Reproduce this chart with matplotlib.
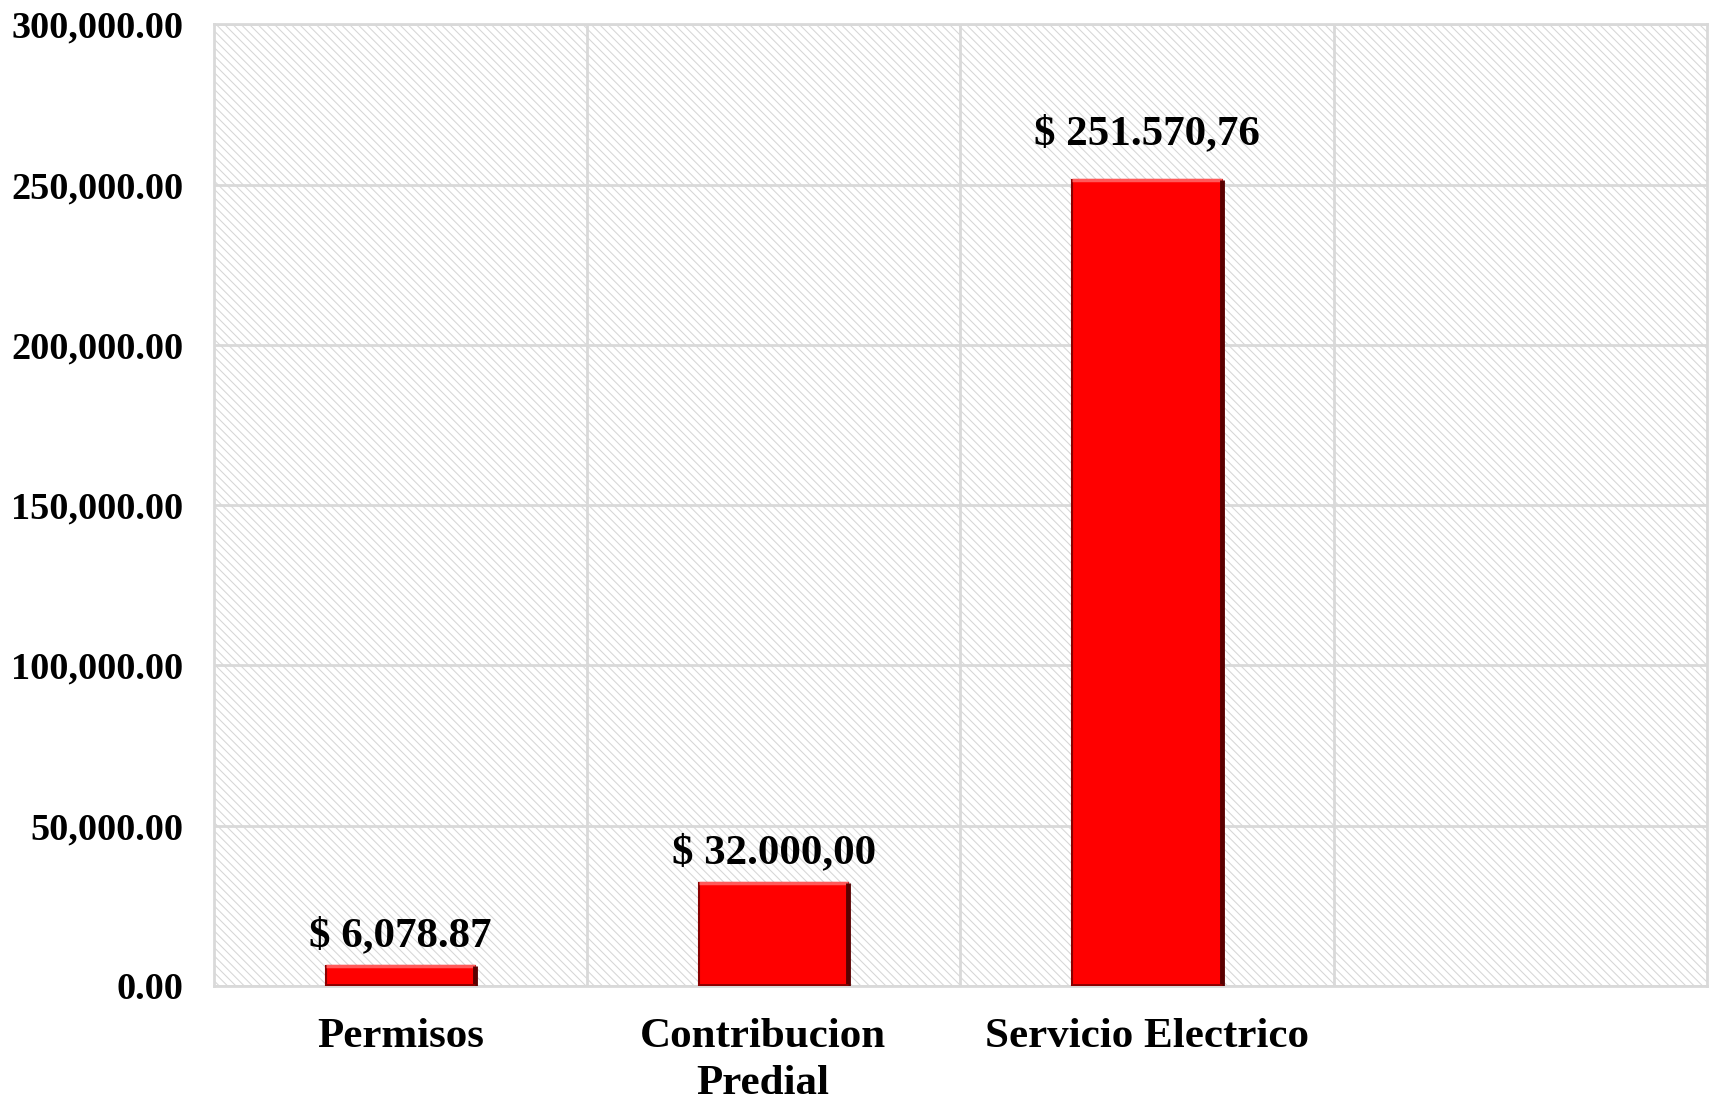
import matplotlib.pyplot as plt
from matplotlib.patches import Rectangle
from matplotlib.ticker import FuncFormatter
from matplotlib.transforms import ScaledTranslation

# datos
categorias = ["Permisos", "Contribucion\nPredial", "Servicio Electrico", ""]
valores = [6078.87, 32000.00, 251570.76]
etiquetas = ["$ 6,078.87", "$ 32.000,00", "$ 251.570,76"]
yticks = [0, 50000, 100000, 150000, 200000, 250000, 300000]

plt.rcParams['font.family'] = ['Liberation Serif', 'DejaVu Serif']
plt.rcParams['font.weight'] = 'bold'
plt.rcParams['hatch.linewidth'] = 0.75

fig = plt.figure(figsize=(17.12, 11.04), dpi=100)
ax = fig.add_axes([0.125, 0.107, 0.872, 0.871])

# fondo rayado
ax.set_facecolor('white')
ax.add_patch(Rectangle((0, 0), 1, 1, transform=ax.transAxes, facecolor='white',
                       edgecolor='#d6d6d6', hatch='\\\\\\\\', linewidth=0, zorder=0))

x = list(range(len(valores)))
bars = ax.bar(x, valores, width=0.4, color='#ff0000', edgecolor='#8a0000',
              linewidth=1.5, zorder=3)

# efecto bisel simple
for b in bars:
    x0, x1 = b.get_x(), b.get_x() + b.get_width()
    h = b.get_height()
    ax.plot([x0, x1], [h, h], color='#ff5a5a', lw=2.5, zorder=4, solid_capstyle='butt')
    ax.plot([x1, x1], [0, h], color='#5a0000', lw=3.5, zorder=4, solid_capstyle='butt')
    ax.plot([x0, x1], [0, 0], color='#8a0000', lw=3.5, zorder=4, solid_capstyle='butt')

# desplazamiento vertical de cada etiqueta (puntos)
desplaz = [8, 8, 19]
for b, txt, dy in zip(bars, etiquetas, desplaz):
    ax.annotate(txt, (b.get_x() + b.get_width() / 2, b.get_height()),
                xytext=(0, dy), textcoords='offset points', ha='center', va='bottom',
                fontsize=31, fontweight='bold', zorder=5)

ax.set_xlim(-0.5, 3.5)
ax.set_ylim(0, 300000)
ax.set_yticks(yticks)
ax.yaxis.set_major_formatter(FuncFormatter(lambda v, p: f"{v:,.2f}"))
ax.set_xticks(range(len(categorias)))
ax.set_xticklabels(categorias, fontsize=31, fontweight='bold', linespacing=1.3)
ax.set_xticks([0.5, 1.5, 2.5], minor=True)
ax.tick_params(axis='y', length=0, labelsize=27.5, pad=22)
ax.tick_params(axis='x', which='both', length=0, pad=23)
for lbl in ax.get_yticklabels():
    lbl.set_fontweight('bold')

# la etiqueta de dos lineas va un poco a la izquierda
lbl = ax.get_xticklabels()[1]
lbl.set_transform(lbl.get_transform() + ScaledTranslation(-0.11, 0, fig.dpi_scale_trans))

ax.grid(True, axis='y', color='#d9d9d9', linewidth=2, zorder=1)
ax.grid(True, axis='x', which='minor', color='#d9d9d9', linewidth=2, zorder=1)
ax.set_axisbelow(True)
for s in ax.spines.values():
    s.set_color('#d9d9d9')
    s.set_linewidth(2)

fig.savefig('out.png', dpi=100)
